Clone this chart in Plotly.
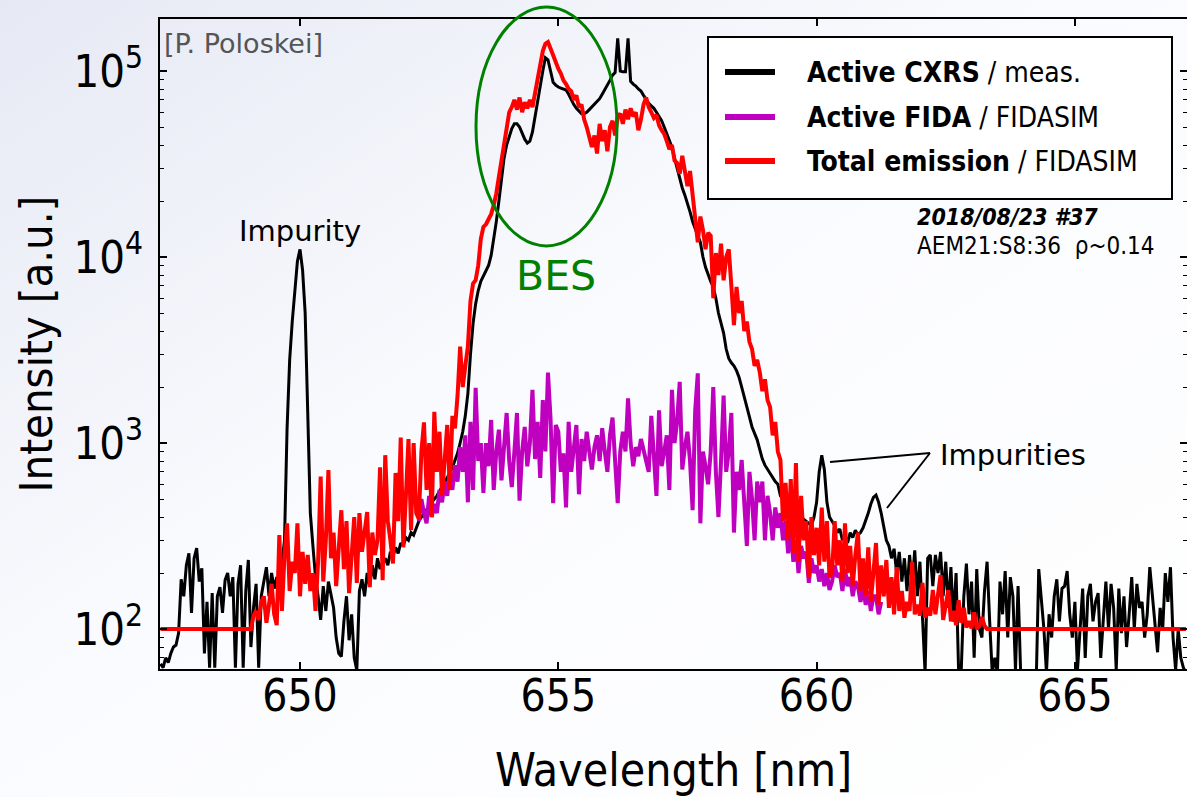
import base64
import numpy as np
import plotly.graph_objects as go

# ---------------- data ----------------
wavelength = np.round(647.30 + 0.05 * np.arange(398), 2)

cxrs_meas = (
    [65, 62, 70, 66, 74, 80, 82, 95, 185, 150, 220, 255, 122, 240, 272, 180, 212, 74, 140, 62]
    + [156, 62, 150, 168, 122, 183, 200, 150, 190, 62, 175, 220, 62, 160, 235, 80, 130, 175, 62, 150]
    + [180, 215, 150, 200, 165, 190, 170, 230, 300, 1200, 2800, 4500, 6500, 9500, 11000, 8500, 5000, 1200, 420, 280]
    + [190, 150, 112, 170, 125, 180, 156, 130, 90, 74, 71, 110, 150, 87, 120, 70, 60, 160, 185, 150]
    + [200, 170, 220, 185, 240, 210, 230, 240, 220, 260, 245, 275, 255, 290, 280, 310, 300, 330, 320, 350]
    + [380, 400, 420, 440, 460, 480, 500, 520, 550, 580, 610, 650, 690, 740, 800, 880, 1000, 1150, 1400, 1850]
    + [3000, 4400, 5600, 6600, 7400, 7900, 8400, 9000, 10200, 12300, 15500, 20000, 27000, 34000, 40000, 45000, 49000, 52000, 52000, 50000]
    + [46000, 43000, 41000, 42000, 47000, 57000, 70000, 84000, 100000, 118000, 115000, 100000, 87000, 84000, 82000, 81000, 80000, 79000, 75000, 70000]
    + [66000, 63000, 61000, 59000, 59000, 60000, 62000, 64000, 66000, 68000, 71000, 75000, 79000, 84000, 89000, 95000, 98000, 150000, 100000, 99000]
    + [99000, 150000, 88000, 85000, 83000, 80000, 78000, 74000, 70000, 67000, 65000, 63000, 60000, 57000, 54000, 50000, 46000, 43000, 39000, 34000]
    + [30000, 26000, 23500, 21500, 19500, 17500, 15500, 14000, 13000, 12000, 10000, 8800, 8000, 7400, 6900, 6000, 5000, 4400, 3900, 3200]
    + [2850, 2700, 2600, 2450, 2250, 2000, 1750, 1560, 1380, 1220, 1120, 1040, 920, 820, 760, 720, 680, 650, 620, 600]
    + [520, 500, 480, 470, 450, 440, 420, 410, 400, 390, 380, 370, 360, 400, 480, 700, 860, 720, 480, 400]
    + [380, 360, 330, 345, 300, 320, 290, 330, 310, 340, 320, 330, 350, 380, 420, 470, 510, 525, 480, 420]
    + [360, 300, 280, 240, 270, 200, 260, 180, 240, 160, 250, 175, 265, 150, 230, 120, 58, 240, 250, 170]
    + [250, 200, 260, 150, 230, 130, 215, 110, 200, 58, 60, 150, 225, 120, 180, 70, 210, 100, 90, 160]
    + [230, 110, 58, 70, 58, 180, 120, 205, 90, 190, 150, 60, 170, 58, 50, 50, 50, 50, 50, 50]
    + [210, 150, 100, 58, 120, 90, 150, 185, 110, 165, 170, 205, 120, 90, 140, 60, 100, 165, 70, 150]
    + [175, 110, 140, 156, 70, 120, 180, 100, 175, 130, 60, 165, 95, 150, 80, 120, 190, 100, 175, 130]
    + [140, 90, 120, 215, 150, 110, 75, 130, 100, 200, 140, 215, 90, 60, 100, 70, 62, 58]
)

fida_sim = (
    [None] * 100
    + [380, 500, 420, 370, 520, 400, 470, 420, 560, 480, 620, 520, 700, 560, 760, 620, 950, 700, 1100, 480]
    + [1300, 560, 1980, 800, 1000, 540, 1000, 750, 1330, 560, 900, 1180, 630, 950, 1450, 800, 580, 900, 1450, 490]
    + [900, 1220, 750, 1000, 1930, 820, 1300, 650, 1700, 900, 2390, 1350, 475, 1250, 1150, 700, 880, 450, 1300, 700]
    + [1000, 1250, 530, 1050, 800, 1150, 900, 720, 950, 1100, 800, 1200, 900, 700, 1100, 1370, 800, 475, 900, 1150]
    + [900, 1740, 1000, 750, 950, 850, 1050, 900, 800, 700, 1400, 900, 520, 1500, 750, 900, 1100, 560, 1930, 1000]
    + [1300, 2130, 720, 950, 1150, 800, 435, 1500, 2370, 370, 900, 750, 600, 900, 2000, 700, 400, 800, 1800, 700]
    + [900, 1450, 330, 700, 560, 810, 450, 280, 700, 500, 300, 620, 480, 620, 300, 520, 420, 300, 450, 350]
    + [420, 300, 380, 255, 350, 230, 300, 200, 280, 240, 260, 177, 240, 200, 220, 180, 210, 170, 200, 162]
    + [180, 220, 190, 200, 160, 210, 170, 190, 150, 180, 170, 140, 170, 135, 160, 125, 150, 150, 120, 140]
    + [None] * 118
)

total_sim = (
    [100] * 20
    + [100] * 15 + [100, 118, 125, 112, 140]
    + [150, 108, 135, 175, 120, 105, 320, 125, 250, 370, 160, 230, 200, 370, 150, 260, 175, 250, 160, 200]
    + [125, 230, 660, 180, 300, 715, 240, 330, 170, 260, 435, 210, 380, 156, 250, 400, 177, 420, 260, 330]
    + [425, 168, 330, 250, 300, 740, 183, 860, 380, 300, 225, 690, 380, 1070, 275, 520, 1050, 340, 1000, 420]
    + [390, 900, 1290, 560, 1000, 400, 1470, 700, 1150, 520, 850, 1250, 560, 1400, 1200, 1800, 3300, 2000, 2600, 3300]
    + [5800, 7200, 7500, 9000, 12500, 14500, 15000, 15800, 17000, 19000, 22000, 27000, 33000, 42000, 52000, 60000, 64000, 70000, 62000, 72000]
    + [60000, 68000, 63000, 70000, 64000, 75000, 90000, 104000, 128000, 140000, 143000, 132000, 120000, 110000, 103000, 97000, 89000, 85000, 80000, 78000]
    + [70000, 74000, 64000, 66000, 55000, 50000, 44000, 39000, 45000, 36000, 52000, 42000, 48000, 37000, 50000, 54000, 45000, 57000, 59000, 52000]
    + [62000, 55000, 63000, 57000, 60000, 48000, 55000, 66000, 72000, 64000, 60000, 56000, 58000, 51000, 48000, 46000, 42000, 38000, 40000, 33000]
    + [32000, 28000, 35000, 29000, 24000, 29000, 22000, 16500, 12000, 16500, 14000, 11000, 13500, 13000, 6000, 10500, 8000, 11800, 7500, 10000]
    + [11000, 7000, 4300, 6900, 5000, 5800, 4000, 4500, 3500, 3200, 2600, 2800, 2400, 1900, 2200, 1700, 1560, 1100, 1300, 900]
    + [810, 380, 610, 300, 640, 255, 780, 230, 520, 300, 380, 190, 400, 250, 350, 220, 450, 230, 380, 190]
    + [200, 380, 220, 300, 180, 370, 200, 280, 170, 250, 330, 160, 240, 150, 275, 140, 200, 290, 135, 220]
    + [150, 235, 130, 190, 120, 215, 125, 160, 115, 140, 125, 230, 120, 135, 118, 177, 115, 130, 118, 162]
    + [120, 150, 195, 112, 140, 162, 110, 125, 105, 143, 108, 130, 102, 110, 101, 123, 100, 104, 116, 104]
    + [100] * 78
)

series_names = ["Active CXRS", "Active FIDA", "Total emission"]
series_sources = ["meas.", "FIDASIM", "FIDASIM"]
series_colors = ["#000000", "#bf00bf", "#ff0000"]

x_ticks = [650, 655, 660, 665]
y_ticks = [1e2, 1e3, 1e4, 1e5]
y_ticklabels = ["10<sup>2</sup>", "10<sup>3</sup>", "10<sup>4</sup>", "10<sup>5</sup>"]
y_minor = [70, 80, 90] + [k * 100 for k in range(2, 10)] + [k * 1000 for k in range(2, 10)] + [k * 10000 for k in range(2, 10)]

# ---------------- figure ----------------
COND = "DejaVu Sans Condensed, DejaVu Sans, sans-serif"
REG = "DejaVu Sans, sans-serif"

W, H = 1187, 797
L, R, T, B = 160, 0, 19, 128
PW, PH = W - L - R, H - T - B


def px(x):
    return (x - L) / PW


def py(y):
    return (H - B - y) / PH


fig = go.Figure()
for vals, col, wdt in [(cxrs_meas, series_colors[0], 3), (fida_sim, series_colors[1], 4), (total_sim, series_colors[2], 4)]:
    fig.add_trace(go.Scatter(x=wavelength, y=vals, mode="lines",
                             line=dict(color=col, width=wdt), connectgaps=False,
                             showlegend=False, hoverinfo="skip"))

# background gradient
svg = (f"<svg xmlns='http://www.w3.org/2000/svg' width='{W}' height='{H}'>"
       "<defs><linearGradient id='g' x1='0' y1='0' x2='1' y2='1'>"
       "<stop offset='0' stop-color='#e6e9f4'/><stop offset='0.45' stop-color='#fafbfe'/>"
       "<stop offset='1' stop-color='#ffffff'/></linearGradient></defs>"
       f"<rect width='{W}' height='{H}' fill='url(#g)'/></svg>")
src = "data:image/svg+xml;base64," + base64.b64encode(svg.encode()).decode()

shapes = []
annotations = []

# BES ellipse
shapes.append(dict(type="circle", xref="paper", yref="paper", x0=px(476), x1=px(617), y0=py(246), y1=py(7),
                   line=dict(color="#008000", width=3)))
# Impurities pointer lines
shapes.append(dict(type="line", xref="paper", yref="paper", x0=px(830), y0=py(462), x1=px(930), y1=py(453),
                   line=dict(color="black", width=2)))
shapes.append(dict(type="line", xref="paper", yref="paper", x0=px(930), y0=py(453), x1=px(887), y1=py(508),
                   line=dict(color="black", width=2)))
# legend box
shapes.append(dict(type="rect", xref="paper", yref="paper", x0=px(708), x1=px(1172), y0=py(199), y1=py(37),
                   line=dict(color="black", width=2), fillcolor="white"))
leg_y = [72, 117, 161]
for name, srcname, col, yy in zip(series_names, series_sources, series_colors, leg_y):
    shapes.append(dict(type="line", xref="paper", yref="paper", x0=px(725), x1=px(775), y0=py(yy), y1=py(yy),
                       line=dict(color=col, width=6)))
    annotations.append(dict(xref="paper", yref="paper", x=px(805), y=py(yy + 1), xanchor="left", yanchor="middle",
                            text=f"<b>{name}</b> / {srcname}", showarrow=False,
                            font=dict(family=COND, size=28, color="black")))

annotations += [
    dict(xref="paper", yref="paper", x=px(162), y=py(44), xanchor="left", yanchor="middle",
         text="[P. Poloskei]", showarrow=False, font=dict(family=REG, size=27, color="#555555")),
    dict(xref="paper", yref="paper", x=px(300), y=py(231), xanchor="center", yanchor="middle",
         text="Impurity", showarrow=False, font=dict(family=REG, size=29, color="black")),
    dict(xref="paper", yref="paper", x=px(938), y=py(455), xanchor="left", yanchor="middle",
         text="Impurities", showarrow=False, font=dict(family=REG, size=29, color="black")),
    dict(xref="paper", yref="paper", x=px(556), y=py(276), xanchor="center", yanchor="middle",
         text="BES", showarrow=False, font=dict(family=REG, size=41, color="#008000")),
    dict(xref="paper", yref="paper", x=px(915), y=py(217), xanchor="left", yanchor="middle",
         text="<b><i>2018/08/23 #37</i></b>", showarrow=False, font=dict(family=COND, size=23, color="black")),
    dict(xref="paper", yref="paper", x=px(915), y=py(246), xanchor="left", yanchor="middle",
         text="AEM21:S8:36\u00a0\u00a0ρ~0.14", showarrow=False, font=dict(family=COND, size=24, color="black")),
]

fig.update_layout(
    width=W, height=H,
    margin=dict(l=L, r=R, t=T, b=B, autoexpand=False),
    paper_bgcolor="white", plot_bgcolor="rgba(0,0,0,0)",
    showlegend=False,
    font=dict(family=COND, color="black"),
    shapes=shapes, annotations=annotations,
    images=[dict(source=src, xref="paper", yref="paper", x=px(0), y=py(0), sizex=W / PW, sizey=H / PH,
                 xanchor="left", yanchor="top", sizing="stretch", layer="below")],
    xaxis=dict(range=[647.29, 667.17], showline=True, linecolor="black", linewidth=2, mirror="ticks",
               ticks="inside", ticklen=7, tickwidth=1.5, tickcolor="black",
               tickvals=x_ticks, ticktext=[str(v) for v in x_ticks],
               tickfont=dict(family=COND, size=44), ticklabelstandoff=-13,
               showgrid=False, zeroline=False,
               title=dict(text="Wavelength [nm]", font=dict(family=COND, size=46), standoff=35)),
    yaxis=dict(type="log", range=[1.785, 5.2796], showline=True, linecolor="black", linewidth=2, mirror="ticks",
               ticks="inside", ticklen=7, tickwidth=1.5, tickcolor="black",
               tickvals=y_ticks, ticktext=y_ticklabels,
               tickfont=dict(family=COND, size=45), ticklabelstandoff=6,
               minor=dict(tickvals=y_minor, ticks="inside", ticklen=4, tickwidth=1.2, tickcolor="black", showgrid=False),
               showgrid=False, zeroline=False,
               title=dict(text="Intensity [a.u.]", font=dict(family=COND, size=45), standoff=7)),
)

fig.write_html("out.html")
